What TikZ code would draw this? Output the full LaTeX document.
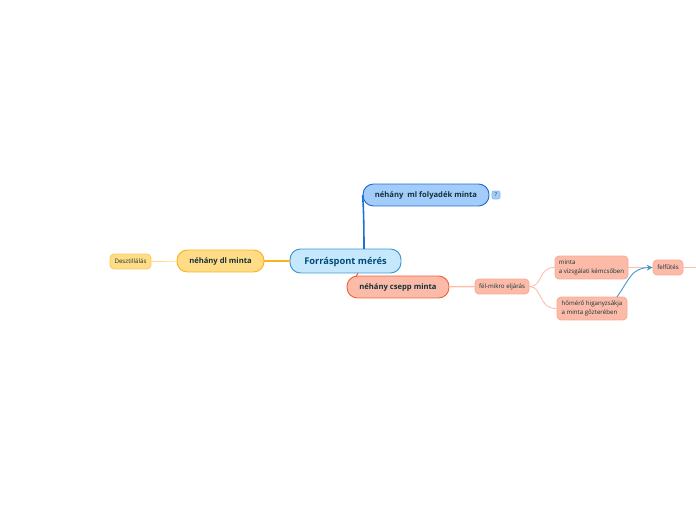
\documentclass[tikz,border=0pt]{standalone}
\usepackage{fontspec}
\setmainfont{Open Sans}
\usepackage{xcolor}
\usetikzlibrary{arrows.meta, positioning}
\definecolor{rootfill}{HTML}{C5E8FD}
\definecolor{rootline}{HTML}{3C97D3}
\definecolor{bluefill}{HTML}{A3CCFA}
\definecolor{blueline}{HTML}{1F6FD8}
\definecolor{redfill}{HTML}{FBBBA8}
\definecolor{redline}{HTML}{F4623A}
\definecolor{redlight}{HTML}{FBBFAE}
\definecolor{yellowfill}{HTML}{FFDC85}
\definecolor{yellowline}{HTML}{F9B21E}
\definecolor{textdark}{HTML}{14323C}

\begin{document}
\begin{tikzpicture}[x=0.02cm, y=-0.02cm,
  topic/.style={draw=#1, rounded corners=2.1mm, line width=0.55pt, text=textdark,
                inner sep=0pt, text height=4.2pt, text depth=0.9pt,
                font=\fontsize{4.35}{6}\selectfont\bfseries},
  leaf/.style={draw=redlight!75!redline, fill=redfill, rounded corners=0.8mm, line width=0.45pt,
               inner sep=0pt, align=left, text=textdark,
               font=\fontsize{3.5}{5.1}\selectfont},
  conn/.style={draw=redlight, line width=0.5pt},
  link/.style={draw=#1, line width=0.9pt},
  >=stealth
]
\useasboundingbox (0,0) rectangle (696,520);

% --- Main topics ---
\node[topic=rootline, fill=rootfill, minimum width=2.22cm, minimum height=0.48cm,
      text height=5.3pt, text depth=1.3pt,
      font=\fontsize{5.3}{7}\selectfont\bfseries, text=black!60!blue!40!teal] (root) at (345.5,261) {Forráspont mérés};
\node[topic=blueline, fill=bluefill, minimum width=2.52cm, minimum height=0.44cm] (ml) at (426,195) {néhány\ \ ml folyadék minta};
\node[topic=redline, fill=redfill, minimum width=2.04cm, minimum height=0.44cm] (csepp) at (398,287) {néhány csepp minta};
\node[topic=yellowline, fill=yellowfill, minimum width=1.74cm, minimum height=0.44cm] (dl) at (220.5,261) {néhány dl minta};

% --- Small nodes ---
\node[leaf, draw=blueline!50, fill=bluefill, rounded corners=0.4mm, minimum width=0.16cm, minimum height=0.16cm,
      font=\fontsize{3}{4}\selectfont] (note) at (496,195) {?};
\node[leaf, draw=yellowline!70, fill=yellowfill, minimum width=0.82cm, minimum height=0.30cm] (deszt) at (130.5,261.5) {Desztillálás};
\node[leaf, minimum width=1.08cm, minimum height=0.30cm] (felmikro) at (502,286.5) {fél-mikro eljárás};
\node[leaf, minimum width=1.46cm, minimum height=0.46cm] (kemcso) at (591.5,267.5) {minta\\a vizsgálati kémcsőben};
\node[leaf, minimum width=1.40cm, minimum height=0.46cm] (homero) at (592,308.5) {hőmérő higanyzsákja\\a minta gőzterében};
\node[leaf, minimum width=0.60cm, minimum height=0.30cm] (felfutes) at (668,267.5) {felfűtés};
\coordinate (kifut) at (696,267.5);
\coordinate (rootup) at (364,249);
\coordinate (rootdown) at (358,273);
\coordinate (csepptop) at (356,276.5);
\coordinate (hofent) at (617,297);

% --- Connections ---
\draw[link=blueline] (rootup) .. controls (364,225) and (363.5,205) .. (ml.west);
\draw[link=yellowline] (dl) -- (root);
\draw[link=redline, line width=0.6pt] (rootdown) -- (csepptop);
\draw[conn, draw=yellowfill] (deszt) -- (dl);
\draw[conn, line width=0.8pt] (csepp) -- (felmikro);
\draw[conn] (felmikro.east) .. controls (543,287) and (538,267) .. (kemcso.west);
\draw[conn] (felmikro.east) .. controls (543,287) and (538,309) .. (homero.west);
\draw[conn, line width=0.8pt] (kemcso.east) -- (felfutes.west);
\draw[conn] (felfutes.east) -- (kifut);
\draw[->, draw=rootline, line width=0.5pt] (hofent) .. controls (630,278) and (632,268) .. (felfutes.west);

\end{tikzpicture}
\end{document}
